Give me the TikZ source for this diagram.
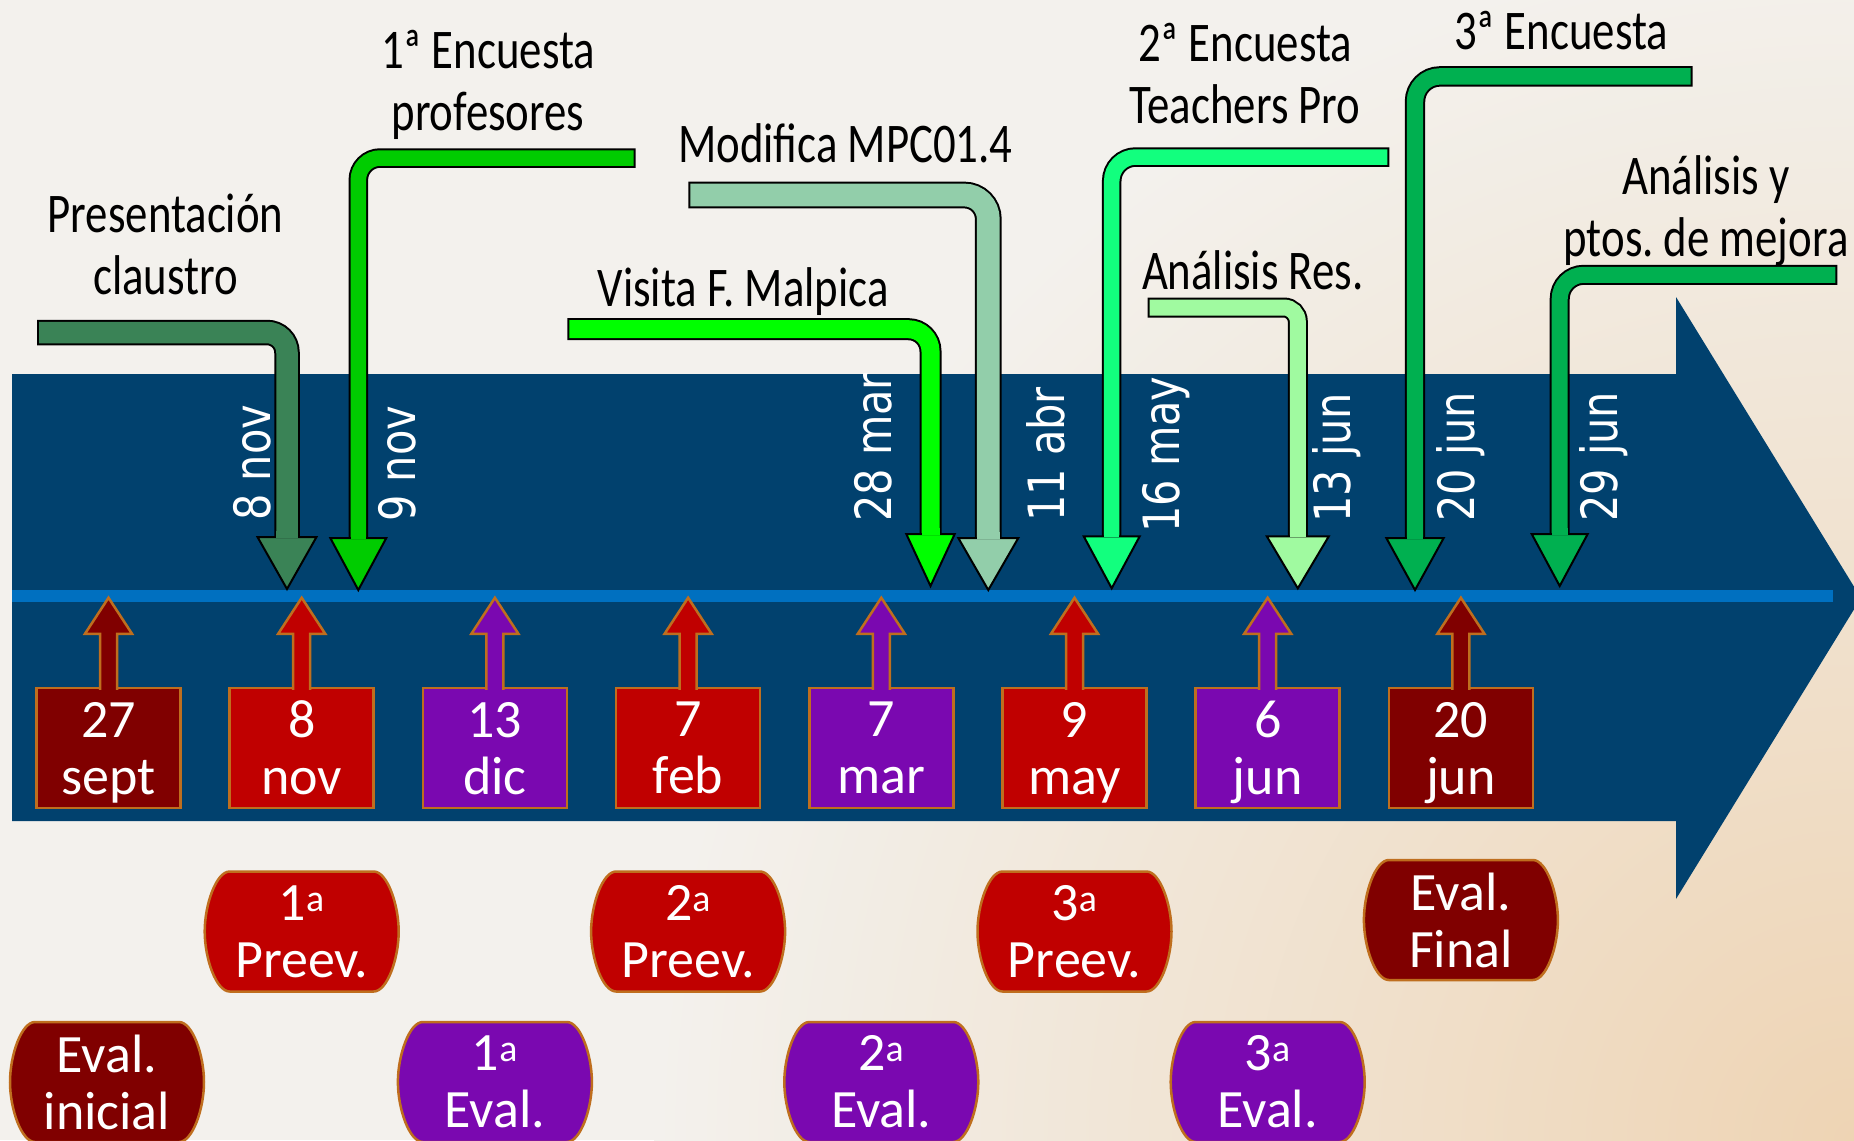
\documentclass[tikz,border=0pt]{standalone}
\usepackage{fontspec}
\setmainfont{Carlito}
\newfontfamily\handfont[FakeStretch=0.8]{Carlito}
\newfontfamily\datefont[FakeStretch=0.83]{DejaVu Sans}
\usetikzlibrary{calc}
\frenchspacing

\definecolor{bgpaper}{RGB}{243,241,237}
\definecolor{bgpeach}{RGB}{238,212,180}
\definecolor{bandblue}{RGB}{1,65,110}
\definecolor{lineblue}{RGB}{0,112,192}
\definecolor{evalmaroon}{RGB}{128,0,0}
\definecolor{evalred}{RGB}{192,0,0}
\definecolor{evalpurple}{RGB}{122,8,176}
\definecolor{edgeorange}{RGB}{191,110,30}
\definecolor{gPres}{RGB}{58,131,86}
\definecolor{gEnc}{RGB}{0,204,0}
\definecolor{gVisita}{RGB}{0,255,0}
\definecolor{gMod}{RGB}{146,206,170}
\definecolor{gTeach}{RGB}{18,255,126}
\definecolor{gRes}{RGB}{160,250,160}
\definecolor{gFinal}{RGB}{0,176,80}

% bent arrow: colour, free end, tip, width, half head, corner
\newcommand{\bentarrow}[6]{%
  \draw[line width=#4, rounded corners=#6] (#2) -- (#2 -| #3) -- ($(#3)+(0,-50)$);
  \draw[#1, line width=#4-4, rounded corners=#6] ($(#2)!2pt!(#2 -| #3)$) -- (#2 -| #3) -- ($(#3)+(0,-50)$);
  \draw[fill=#1, line width=2, line join=miter] ($(#3)+(-#5,-52)$) -- (#3) -- ($(#3)+(#5,-52)$) -- cycle;
  \fill[#1] ($(#3)+(-#4/2+2,-58)$) rectangle ($(#3)+(#4/2-2,-51)$);
}

\begin{document}
\begin{tikzpicture}[x=1pt, y=-1pt,
    datebox/.style={draw=edgeorange, line width=2.5, minimum width=144, minimum height=120, inner sep=0,
      text=white, align=center, font=\fontsize{54}{57}\selectfont},
    upstem/.style={draw=edgeorange, line width=2.5, line join=miter},
    pillline/.style={draw=edgeorange, line width=2.5},
    evalpill/.style={minimum width=194, minimum height=120, inner sep=0, text=white, align=center,
      font=\fontsize{54}{57}\selectfont},
    datelbl/.style={font=\datefont\fontsize{50}{50}\selectfont, text=white, rotate=90, anchor=base west, inner sep=0},
    handlbl/.style={font=\handfont\fontsize{56}{62}\selectfont, align=flush center, text width=360,
      inner sep=0, anchor=base}]
  \useasboundingbox (0,0) rectangle (1854,1140);
  \clip (0,0) rectangle (1854,1140);

  % Paper
  \fill[bgpaper] (0,0) rectangle (1854,1140);
  \shade[inner color=bgpeach, outer color=bgpaper] (1854,1140) circle (1200);

  % Big arrow and time line
  \fill[bandblue] (12,374) -- (1676,374) -- (1676,297) -- (1861,598) -- (1676,899) -- (1676,821) -- (12,821) -- cycle;
  \coordinate (lineL) at (12,596);
  \coordinate (lineR) at (1833,596);
  \draw[lineblue, line width=12] (lineL) -- (lineR);

  % Evaluation dates under the line
  \foreach \n/\cx/\col/\day/\mon in {1/108.5/evalmaroon/27/sept, 2/301.7/evalred/8/nov,
      3/494.9/evalpurple/13/dic, 4/688.1/evalred/7/feb, 5/881.3/evalpurple/7/mar,
      6/1074.5/evalred/9/may, 7/1267.7/evalpurple/6/jun, 8/1460.9/evalmaroon/20/jun}{
    \node[datebox, fill=\col] (d\n) at (\cx,748) {\day\\\smash{\mon}};
    \draw[upstem, fill=\col] (d\n.north) ++(-8.5,3) -- ++(0,-56) -- ++(-15,0) -- ++(23.5,-36)
      -- ++(23.5,36) -- ++(-15,0) -- ++(0,56);
  }

  % Sessions
  \foreach \nm/\px/\py/\col/\txt in {p1/301.7/931.5/evalred/{1\textsuperscript{a}\\Preev.},
      p2/688.1/931.5/evalred/{2\textsuperscript{a}\\Preev.}, p3/1074.5/931.5/evalred/{3\textsuperscript{a}\\Preev.},
      pf/1460.9/920/evalmaroon/{Eval.\\Final}, e0/107/1082/evalmaroon/{Eval.\\inicial},
      e1/494.9/1082/evalpurple/{1\textsuperscript{a}\\Eval.}, e2/881.3/1082/evalpurple/{2\textsuperscript{a}\\Eval.},
      e3/1267.7/1082/evalpurple/{3\textsuperscript{a}\\Eval.}}{
    \draw[pillline, fill=\col, shift={(\px,\py)}] (-72,-60) -- (72,-60)
      .. controls (85.5,-60) and (97,-27) .. (97,0) .. controls (97,27) and (85.5,60) .. (72,60)
      -- (-72,60) .. controls (-85.5,60) and (-97,27) .. (-97,0)
      .. controls (-97,-27) and (-85.5,-60) .. (-72,-60) -- cycle;
    \node[evalpill] (\nm) at (\px,\py) {\txt};
  }

  % Dates above the line
  \node[datelbl] (n1) at (270,521) {8 nov};
  \node[datelbl] (n2) at (415,522) {9 nov};
  \node[datelbl] (n3) at (891.5,522) {28 mar};
  \node[datelbl] (n4) at (1064,522) {11 abr};
  \node[datelbl] (n5) at (1179.5,533) {16 may};
  \node[datelbl] (n6) at (1350.5,523) {13 jun};
  \node[datelbl] (n7) at (1474,522) {20 jun};
  \node[datelbl] (n8) at (1617,522) {29 jun};

  % Activities
  \coordinate (presS) at (37,332.5);     \coordinate (presT) at (287,589);
  \coordinate (encS) at (635.5,158);     \coordinate (encT) at (358.3,590);
  \coordinate (visS) at (567.3,329.2);   \coordinate (visT) at (930.5,586);
  \coordinate (modS) at (688.3,195);     \coordinate (modT) at (988.3,590);
  \coordinate (teachS) at (1389.3,157);  \coordinate (teachT) at (1111.7,588.3);
  \coordinate (resS) at (1147.7,307.5);  \coordinate (resT) at (1297.8,588.3);
  \coordinate (finS) at (1692.7,76.4);   \coordinate (finT) at (1415,590);
  \coordinate (mejS) at (1837.3,274.8);  \coordinate (mejT) at (1559.7,586);
  \bentarrow{gPres}{presS}{presT}{25.5}{29.5}{20}
  \bentarrow{gEnc}{encS}{encT}{19.5}{28}{22}
  \bentarrow{gVisita}{visS}{visT}{22}{24.2}{22}
  \bentarrow{gMod}{modS}{modT}{26.7}{30}{24}
  \bentarrow{gTeach}{teachS}{teachT}{19.5}{28}{24}
  \bentarrow{gRes}{resS}{resT}{20}{31}{14}
  \bentarrow{gFinal}{finS}{finT}{20.4}{28.7}{25}
  \bentarrow{gFinal}{mejS}{mejT}{20}{28}{24}

  % Labels
  \node[handlbl] (presL) at (165.5,232.7) {Presentación\\claustro};
  \node[handlbl] (encL) at (488,68.9) {1ª Encuesta\\profesores};
  \node[handlbl] (visL) at (743.3,306.7) {Visita F. Malpica};
  \node[handlbl] (modL) at (845.4,162.6) {Modifica MPC01.4};
  \node[handlbl] (teachL) at (1245,61.2) {2ª Encuesta\\Teachers Pro};
  \node[handlbl] (resL) at (1252.8,289) {Análisis Res.};
  \node[handlbl] (finL) at (1561,49.7) {3ª Encuesta};
  \node[handlbl] (mejL) at (1706,194) {Análisis y\\ptos. de mejora};
\end{tikzpicture}
\end{document}
